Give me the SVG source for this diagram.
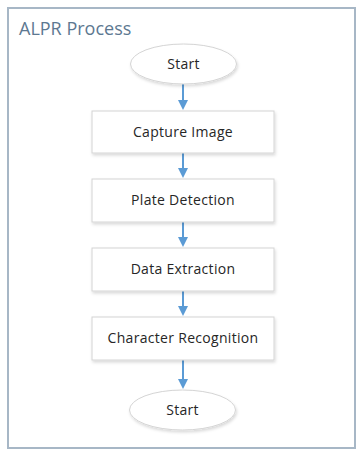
<svg xmlns="http://www.w3.org/2000/svg" width="359" height="450" viewBox="0 0 359 450">
<defs>
<filter id="sh" x="-10%" y="-10%" width="130%" height="140%"><feDropShadow dx="1" dy="2" stdDeviation="1.5" flood-color="#000" flood-opacity="0.15"/></filter>
</defs>
<style>
.frame{fill:#fff;stroke:#a7b7c6;stroke-width:2}
.title{font-family:"Open Sans","Liberation Sans",sans-serif;font-size:18px;fill:#5d7891}
.box{fill:#fff;stroke:#d4d4d4;stroke-width:1;filter:url(#sh)}
.lbl{font-family:"Open Sans","Liberation Sans",sans-serif;font-size:14px;letter-spacing:0.3px;fill:#262626;text-anchor:middle}
.con{stroke:#5b9bd5;stroke-width:2;fill:none}
.head{fill:#5b9bd5}
</style>
<rect width="359" height="450" fill="#fff"/>
<rect class="frame" x="8" y="8" width="347" height="440"/>
<text class="title" x="19" y="35">ALPR Process</text>
<g id="connectors">
<line class="con" x1="183" y1="84" x2="183" y2="102"/><path class="head" d="M178,100 L188,100 L183,110 Z"/>
<line class="con" x1="183" y1="153" x2="183" y2="170"/><path class="head" d="M178,168 L188,168 L183,178 Z"/>
<line class="con" x1="183" y1="222" x2="183" y2="239"/><path class="head" d="M178,237 L188,237 L183,247 Z"/>
<line class="con" x1="183" y1="291" x2="183" y2="308"/><path class="head" d="M178,306 L188,306 L183,316 Z"/>
<line class="con" x1="183" y1="360" x2="183" y2="381"/><path class="head" d="M178,379 L188,379 L183,389 Z"/>
</g>
<g id="start"><ellipse class="box" cx="183.5" cy="64" rx="53" ry="20"/><text class="lbl" x="183.5" y="69">Start</text></g>
<g id="capture"><rect class="box" x="92" y="111" width="182" height="42"/><text class="lbl" x="183" y="137">Capture Image</text></g>
<g id="plate"><rect class="box" x="92" y="179" width="182" height="43"/><text class="lbl" x="183" y="205">Plate Detection</text></g>
<g id="data"><rect class="box" x="92" y="248" width="182" height="43"/><text class="lbl" x="183" y="274">Data Extraction</text></g>
<g id="char"><rect class="box" x="92" y="317" width="182" height="43"/><text class="lbl" x="183" y="343">Character Recognition</text></g>
<g id="end"><ellipse class="box" cx="182.5" cy="410" rx="53" ry="20"/><text class="lbl" x="182.5" y="415">Start</text></g>
</svg>
